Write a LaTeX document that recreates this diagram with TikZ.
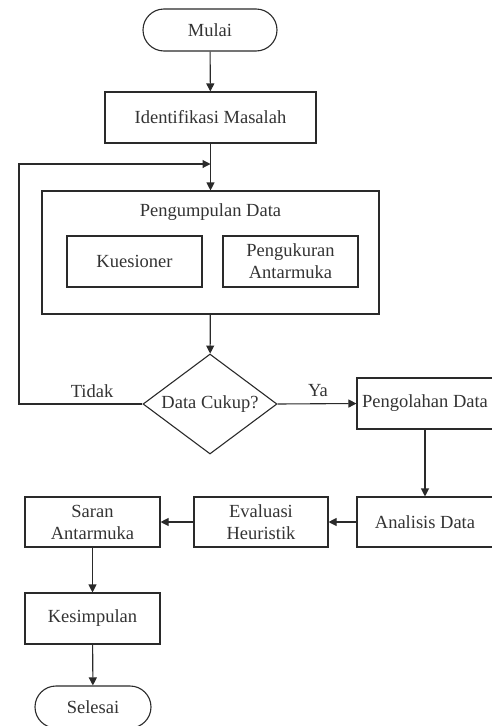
\documentclass[tikz,border=0pt]{standalone}
\usepackage{fontspec}
\setmainfont{Liberation Serif}
\usetikzlibrary{shapes.geometric,arrows.meta}
\definecolor{ln}{HTML}{2A2A2A}
\definecolor{tx}{HTML}{333333}
\begin{document}
\begin{tikzpicture}[x=1pt,y=-1pt,
  every node/.style={text=tx,font=\fontsize{18.5}{22}\selectfont,align=center,inner sep=0pt},
  box/.style={draw=ln,line width=1.1pt,rectangle,minimum width=#1,minimum height=51pt},
  box/.default=135pt,
  term/.style={draw=ln,line width=1.1pt,rectangle,rounded corners=21pt,minimum width=#1,minimum height=42pt},
  dec/.style={draw=ln,line width=1.1pt,diamond,aspect=1.34,minimum width=134pt,minimum height=100pt},
  arr/.style={draw=ln,line width=1.1pt,-{Triangle[length=8pt,width=8pt]}},
  ln/.style={draw=ln,line width=1.1pt}]
\useasboundingbox (0,0) rectangle (491,726);
\node[term=134pt] (mulai) at (210,30) {Mulai};
\node[box=211pt] (ident) at (210.5,117.5) {Identifikasi Masalah};
\node[draw=ln,line width=1.1pt,rectangle,minimum width=337pt,minimum height=123pt] (outer) at (210.5,252.5) {};
\node (title) at (210.5,212) {Pengumpulan Data};
\node[box=135pt] (kues) at (134.5,261.5) {Kuesioner};
\node[box=135pt] (peng) at (290.5,261.5) {Pengukuran\\Antarmuka};
\node[dec] (dia) at (210,404) {Data Cukup?};
\node[box=136pt] (olah) at (425,403.5) {Pengolahan Data};
\node[box=136pt,minimum height=50pt] (anal) at (425,522) {Analisis Data};
\node[box=134pt,minimum height=50pt] (eval) at (261,522) {Evaluasi\\Heuristik};
\node[box=135pt,minimum height=50pt] (saran) at (92.5,522) {Saran\\Antarmuka};
\node[box=135pt] (kesim) at (92.5,618.5) {Kesimpulan};
\node[term=116pt] (selesai) at (93,707) {Selesai};
\node (tidak) at (92,391) {Tidak};
\node (ya) at (318,391) {Ya};
\coordinate (j) at (210.5,164);
\coordinate (lc) at (19,404);
\draw[arr] (mulai) -- (ident);
\draw[arr] (ident) -- (outer);
\draw[arr] (dia.west) -- (lc) |- (j);
\draw[arr] (outer) -- (dia);
\draw[arr] (dia.east) -- (olah.west);
\draw[arr] (olah) -- (anal);
\draw[arr] (anal) -- (eval);
\draw[arr] (eval) -- (saran);
\draw[arr] (saran) -- (kesim);
\draw[arr] (kesim) -- (selesai);
\end{tikzpicture}
\end{document}
